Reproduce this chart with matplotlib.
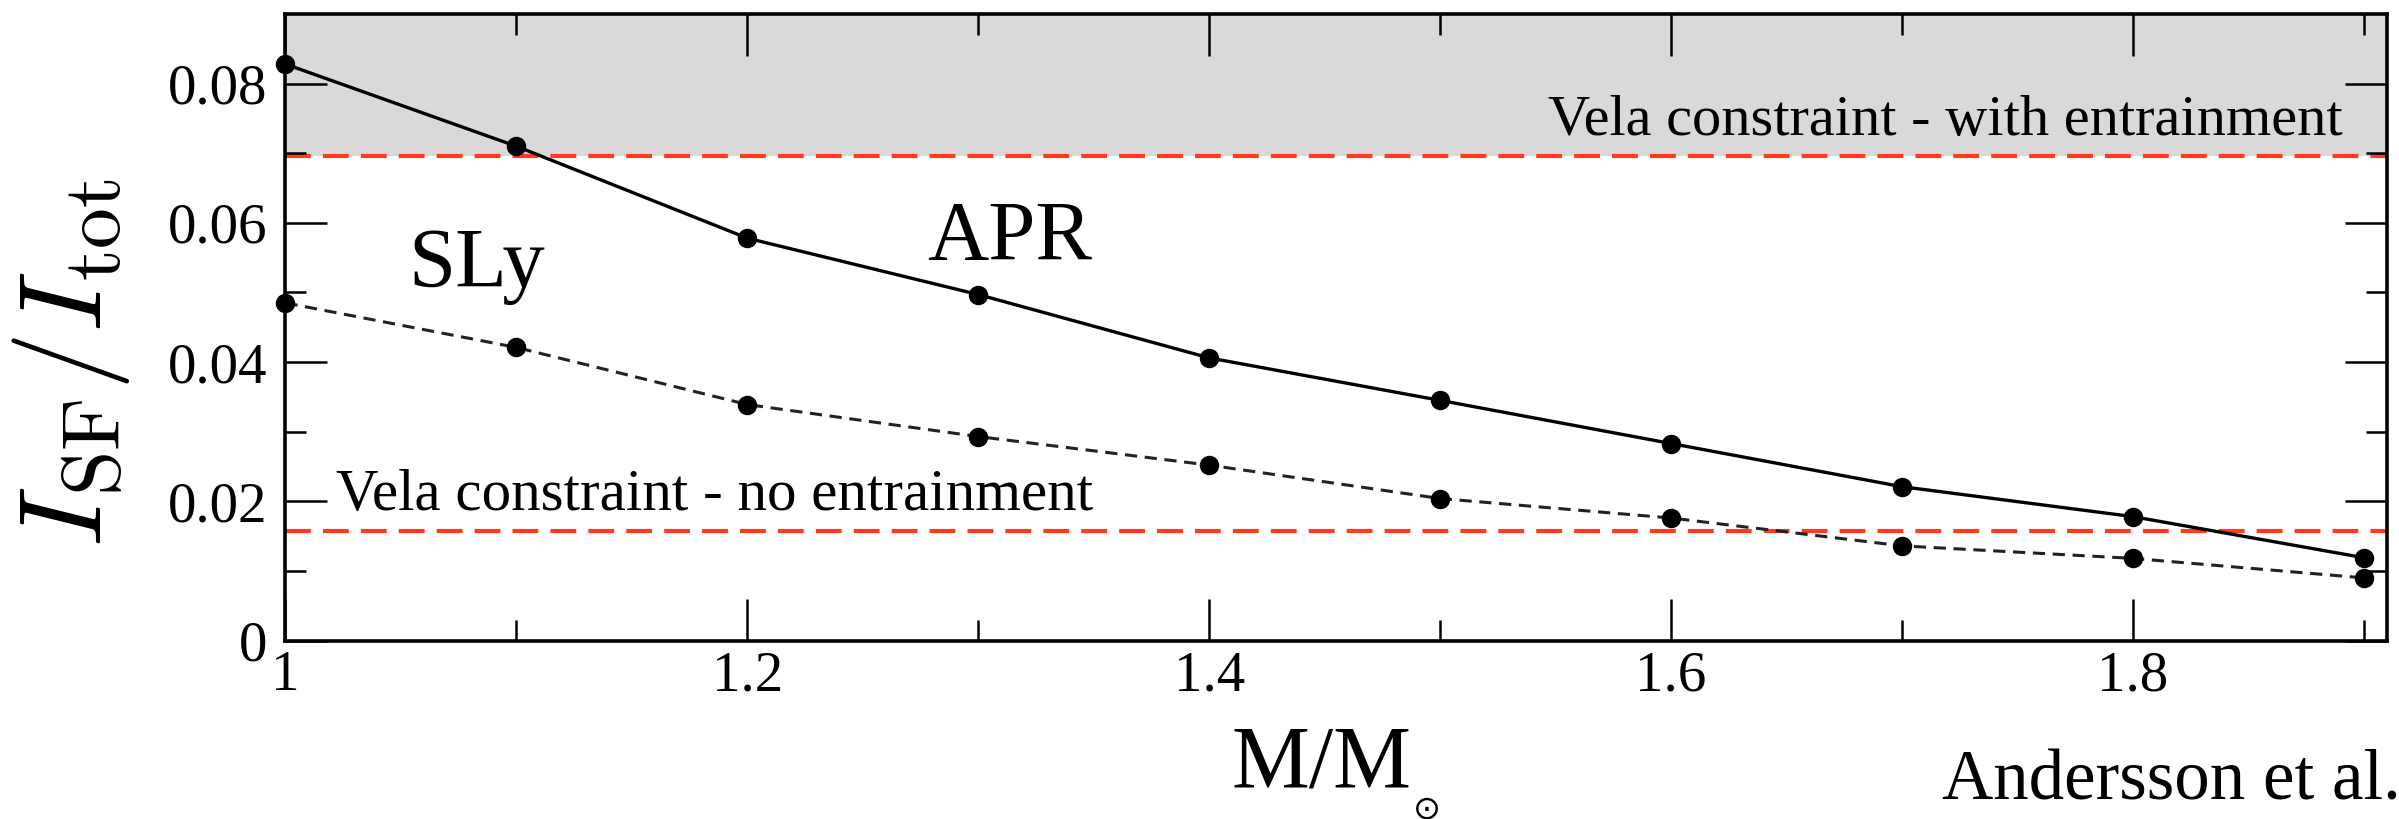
import matplotlib
matplotlib.use("Agg")
import matplotlib.pyplot as plt
from matplotlib.ticker import FixedLocator

plt.rcParams['font.family'] = ['Liberation Serif', 'DejaVu Serif']
plt.rcParams['mathtext.fontset'] = 'cm'

# stellar mass in solar units
mass = [1.0, 1.1, 1.2, 1.3, 1.4, 1.5, 1.6, 1.7, 1.8, 1.9]
# superfluid moment of inertia fraction for the two equations of state
apr = [0.0828, 0.0710, 0.0578, 0.0497, 0.0406, 0.0345, 0.0283, 0.0221, 0.0178, 0.0119]
sly = [0.0485, 0.0421, 0.0339, 0.0293, 0.0252, 0.0204, 0.0176, 0.0136, 0.0118, 0.0090]

# Vela glitch constraints
vela_entrain = 0.0696
vela_no_entrain = 0.0158

xticks = [1.0, 1.2, 1.4, 1.6, 1.8]
xtick_labels = ['1', '1.2', '1.4', '1.6', '1.8']
xminor = [1.1, 1.3, 1.5, 1.7, 1.9]
yticks = [0.0, 0.02, 0.04, 0.06, 0.08]
ytick_labels = ['0', '0.02', '0.04', '0.06', '0.08']
yminor = [0.01, 0.03, 0.05, 0.07]

fig = plt.figure(figsize=(23.99, 8.19), dpi=100)
ax = fig.add_axes([0.1190, 0.2179, 0.8760, 0.7650])

ax.set_xlim(1.0, 1.91)
ax.set_ylim(0.0, 0.09)

# excluded region above the entrainment limit
ax.axhspan(vela_entrain, 0.09, color='#d9d9d9', zorder=0, lw=0)
red = '#ff3a1f'
ax.axhline(vela_entrain, color=red, lw=3, dashes=(6.2, 2.9), zorder=1)
ax.axhline(vela_no_entrain, color=red, lw=3, dashes=(6.2, 2.9), zorder=1)

ax.plot(mass, apr, color='black', lw=2.4, marker='o', ms=13,
        zorder=3, clip_on=False)
ax.plot(mass, sly, color='#222222', lw=2.2, dashes=(4, 2.5), marker='o',
        ms=13, mfc='black', mec='black', zorder=3, clip_on=False)

ax.text(1.053, 0.0508, 'SLy', fontsize=61, va='baseline', ha='left')
ax.text(1.278, 0.0547, 'APR', fontsize=61, va='baseline', ha='left')
ax.text(1.8907, 0.0726, 'Vela constraint - with entrainment', fontsize=42,
        va='baseline', ha='right')
ax.text(1.0218, 0.01875, 'Vela constraint - no entrainment', fontsize=42.5,
        va='baseline', ha='left')

ax.xaxis.set_major_locator(FixedLocator(xticks))
ax.xaxis.set_minor_locator(FixedLocator(xminor))
ax.yaxis.set_major_locator(FixedLocator(yticks))
ax.yaxis.set_minor_locator(FixedLocator(yminor))
ax.set_xticklabels(xtick_labels)
ax.set_yticklabels(ytick_labels)

ax.tick_params(which='both', direction='in', top=True, right=True,
               width=1.8, labelsize=41)
ax.tick_params(which='major', length=30)
ax.tick_params(which='minor', length=15)
ax.tick_params(axis='x', pad=7)
ax.tick_params(axis='y', pad=13)
for sp in ax.spines.values():
    sp.set_linewidth(2.6)

fig.text(0.0295, 0.557, r'$I_{\rm SF}/I_{\rm tot}$', fontsize=84,
         rotation=90, ha='center', va='center')
fig.text(0.5135, 0.0391, 'M/M', fontsize=63, ha='left', va='baseline')
fig.text(0.589, 0.0317, '\u2299', fontsize=24, family='DejaVu Sans',
         ha='left', va='top')
fig.text(0.8095, 0.0232, 'Andersson et al.', fontsize=51, ha='left',
         va='baseline')

fig.savefig('out.png', dpi=100)
